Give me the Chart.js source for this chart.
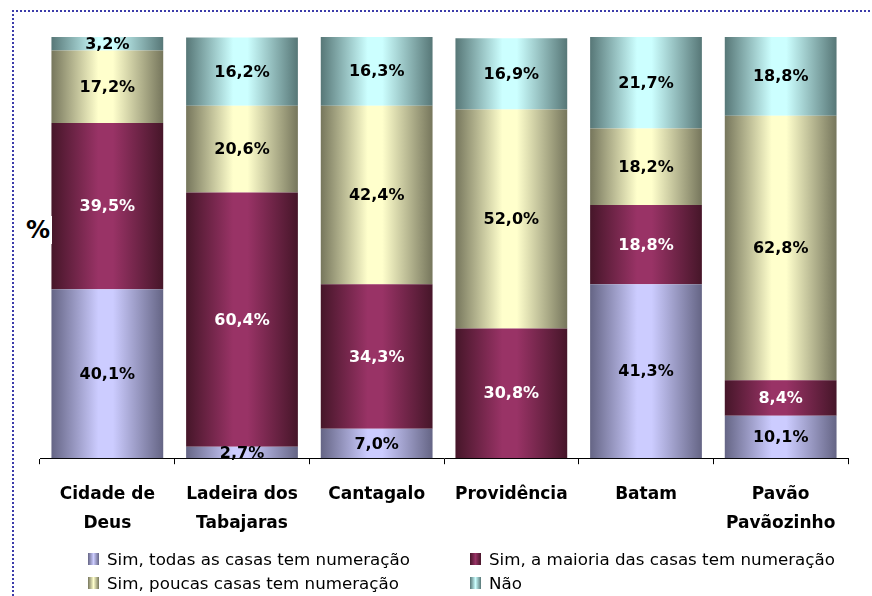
<!DOCTYPE html>
<html>
<head>
<meta charset="utf-8">
<script src="https://cdn.jsdelivr.net/npm/chart.js@4/dist/chart.umd.min.js"></script>
<style>
  body { margin: 0; background: #fff; font-family: "DejaVu Sans", sans-serif; }
  #wrap { position: relative; width: 872px; height: 596px; overflow: hidden; }
  .dotsH { position: absolute; left: 12px; top: 10px; width: 870px; height: 2px;
           background: repeating-linear-gradient(to right, #3c3caa 0 2px, transparent 2px 4px); }
  .dotsV { position: absolute; left: 12px; top: 10px; width: 2px; height: 600px;
           background: repeating-linear-gradient(to bottom, #3c3caa 0 2px, transparent 2px 4px); }
  #pct { position: absolute; left: 26px; top: 216px; font-weight: bold; font-size: 24px; background: #fff; padding-right: 2px; }
  #legend { position: absolute; left: 88px; top: 549px; width: 780px; font-size: 16.7px; color: #000;
            display: grid; grid-template-columns: 382px 390px; row-gap: 4px; }
  #legend div { display: flex; align-items: center; height: 20px; white-space: nowrap; }
  #legend span.box { width: 11px; height: 12px; margin-right: 8px; flex: none; }
</style>
</head>
<body>
<div id="wrap">
  <canvas id="chart" width="872" height="596"></canvas>
  <div class="dotsH"></div>
  <div class="dotsV"></div>
  <div id="pct">%</div>
  <div id="legend"></div>
</div>
<script>
const categories = [['Cidade de', 'Deus'], ['Ladeira dos', 'Tabajaras'], 'Cantagalo', 'Providência', 'Batam', ['Pavão', 'Pavãozinho']];
const seriesNames = ['Sim, todas as casas tem numeração', 'Sim, a maioria das casas tem numeração',
                     'Sim, poucas casas tem numeração', 'Não'];
const todas   = [40.1, 2.7, 7.0, 0, 41.3, 10.1];
const maioria = [39.5, 60.4, 34.3, 30.8, 18.8, 8.4];
const poucas  = [17.2, 20.6, 42.4, 52.0, 18.2, 62.8];
const nao     = [3.2, 16.2, 16.3, 16.9, 21.7, 18.8];

// [dark edge, light centre]
const shades = [
  ['#656585', '#ccccff'],
  ['#461629', '#993366'],
  ['#76765c', '#ffffcc'],
  ['#577777', '#ccffff']
];
const barFrac = 0.83;

function gradFill(i) {
  return function (ctx) {
    const chart = ctx.chart;
    const x = chart.scales && chart.scales.x;
    if (!x || ctx.dataIndex === undefined) return shades[i][1];
    const cx = x.getPixelForValue(ctx.dataIndex);
    const w = x.width / categories.length * barFrac;
    if (!isFinite(cx) || !isFinite(w) || w <= 0) return shades[i][1];
    const g = chart.ctx.createLinearGradient(cx - w / 2, 0, cx + w / 2, 0);
    g.addColorStop(0, shades[i][0]);
    g.addColorStop(0.42, shades[i][1]);
    g.addColorStop(0.55, shades[i][1]);
    g.addColorStop(1, shades[i][0]);
    return g;
  };
}

const valueLabels = {
  id: 'valueLabels',
  afterDatasetsDraw(chart) {
    const c = chart.ctx;
    c.save();
    c.font = 'bold 16px "DejaVu Sans"';
    c.textAlign = 'center';
    c.textBaseline = 'middle';
    chart.data.datasets.forEach((ds, di) => {
      chart.getDatasetMeta(di).data.forEach((el, i) => {
        const v = ds.data[i];
        if (!v) return;
        c.fillStyle = di === 1 ? '#fff' : '#000';
        c.fillText(v.toFixed(1).replace('.', ',') + '%', el.x, (el.y + el.base) / 2 + 1);
      });
    });
    c.restore();
  }
};

const chart = new Chart(document.getElementById('chart'), {
  type: 'bar',
  data: {
    labels: categories,
    datasets: [todas, maioria, poucas, nao].map((d, i) => ({
      label: seriesNames[i],
      data: d,
      backgroundColor: gradFill(i),
      borderWidth: 0,
      barPercentage: 1,
      categoryPercentage: barFrac
    }))
  },
  options: {
    responsive: false,
    animation: false,
    layout: { padding: { left: 40, right: 24, top: 37, bottom: 42 } },
    plugins: { legend: { display: false }, tooltip: { enabled: false } },
    scales: {
      x: {
        stacked: true,
        grid: { display: true, drawOnChartArea: false, tickLength: 6, color: '#000' },
        border: { color: '#000' },
        ticks: { color: '#000', padding: 16, font: { family: 'DejaVu Sans', size: 17, weight: 'bold', lineHeight: 1.7 } }
      },
      y: { stacked: true, display: false, min: 0, max: 100 }
    }
  },
  plugins: [valueLabels]
});

const legend = document.getElementById('legend');
seriesNames.forEach((name, i) => {
  const d = document.createElement('div');
  const b = document.createElement('span');
  b.className = 'box';
  b.style.background = 'linear-gradient(to right,' + shades[i][0] + ',' + shades[i][1] + ' 50%,' + shades[i][0] + ')';
  d.appendChild(b);
  d.appendChild(document.createTextNode(name));
  legend.appendChild(d);
});
</script>
</body>
</html>
